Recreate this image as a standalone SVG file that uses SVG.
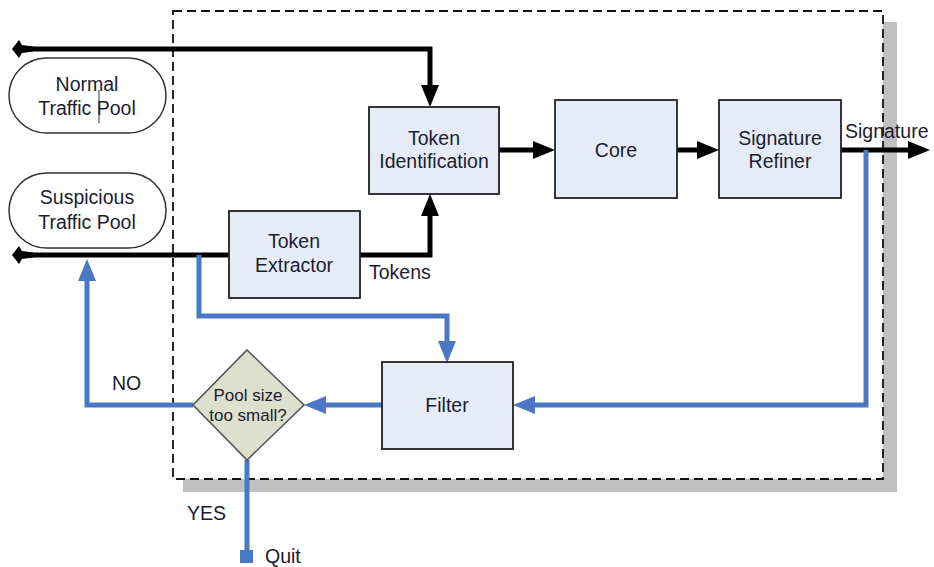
<svg xmlns="http://www.w3.org/2000/svg" width="934" height="567" viewBox="0 0 934 567">
<defs>
<style>
text{font-family:"Liberation Sans",Arial,sans-serif;font-size:19.5px;fill:#1c1c30}
.box{fill:#e6ecf7;stroke:#222;stroke-width:1.8}
.pool{fill:#fff;stroke:#333;stroke-width:1.5}
.blk{fill:none;stroke:#000;stroke-width:5}
.blu{fill:none;stroke:#4a78c4;stroke-width:5}
.c{text-anchor:middle}
</style>
<marker id="ab" viewBox="0 0 22 18" refX="1" refY="9" markerWidth="22" markerHeight="18" orient="auto" markerUnits="userSpaceOnUse">
<path d="M0,0 L22,9 L0,18 Z" fill="#000"/>
</marker>
<marker id="au" viewBox="0 0 22 18" refX="1" refY="9" markerWidth="22" markerHeight="18" orient="auto" markerUnits="userSpaceOnUse">
<path d="M0,0 L22,9 L0,18 Z" fill="#4a78c4"/>
</marker>
</defs>
<rect width="934" height="567" fill="#fff"/>
<g id="frame">
<rect x="183" y="22" width="714" height="470" fill="#c0c0c0"/>
<rect x="173" y="11" width="710" height="468" fill="#fff" stroke="#111" stroke-width="1.8" stroke-dasharray="9,5"/>
</g>
<g id="connectors">
<path class="blk" d="M26,49 H430 V86" marker-end="url(#ab)"/>
<path d="M12,49 L19,40 L22,45 L33,46.5 V51.5 L22,53 L19,58 Z" fill="#000"/>
<path class="blk" d="M26,255 H229"/>
<path d="M12,255 L19,246 L22,251 L33,252.5 V257.5 L22,259 L19,264 Z" fill="#000"/>
<path class="blk" d="M360,255 H430 V215" marker-end="url(#ab)"/>
<path class="blk" d="M499,150 H534" marker-end="url(#ab)"/>
<path class="blk" d="M677,150 H698" marker-end="url(#ab)"/>
<path class="blk" d="M841,150 H909" marker-end="url(#ab)"/>
<path class="blu" d="M866,150 V405 H534" marker-end="url(#au)"/>
<path class="blu" d="M199,255 V316 H447 V342" marker-end="url(#au)"/>
<path class="blu" d="M382,405 H325" marker-end="url(#au)"/>
<path class="blu" d="M193,405 H87 V280" marker-end="url(#au)"/>
<path class="blu" d="M247,460 V551"/>
<rect x="240" y="550" width="13" height="13" fill="#4a78c4"/>
</g>
<g id="normal-pool">
<rect class="pool" x="9" y="58" width="157" height="75" rx="37.5"/>
<text class="c" x="87" y="91">Normal</text>
<text class="c" x="87" y="115">Traffic Pool</text>
<line x1="99" y1="90" x2="99" y2="123" stroke="#333" stroke-width="1"/>
</g>
<g id="suspicious-pool">
<rect class="pool" x="9" y="173" width="157" height="75" rx="37.5"/>
<text class="c" x="87" y="204">Suspicious</text>
<text class="c" x="87" y="229">Traffic Pool</text>
</g>
<g id="token-identification">
<rect class="box" x="369" y="107" width="130" height="87"/>
<text class="c" x="434" y="145">Token</text>
<text class="c" x="434" y="168">Identification</text>
</g>
<g id="core">
<rect class="box" x="555" y="100" width="122" height="98"/>
<text class="c" x="616" y="157">Core</text>
</g>
<g id="signature-refiner">
<rect class="box" x="719" y="100" width="122" height="98"/>
<text class="c" x="780" y="145">Signature</text>
<text class="c" x="780" y="168">Refiner</text>
</g>
<g id="token-extractor">
<rect class="box" x="229" y="211" width="131" height="87"/>
<text class="c" x="294" y="248">Token</text>
<text class="c" x="294" y="272">Extractor</text>
</g>
<g id="filter">
<rect class="box" x="382" y="362" width="131" height="87"/>
<text class="c" x="447" y="412">Filter</text>
</g>
<g id="decision">
<path d="M247,350 L304,405 L247,460 L193,405 Z" fill="#dde0cc" stroke="#555" stroke-width="1.6"/>
<text class="c" x="248" y="401" style="font-size:17px">Pool size</text>
<text class="c" x="248" y="421" style="font-size:17px">too small?</text>
</g>
<g id="labels">
<text x="845" y="138">Signature</text>
<text x="369" y="279">Tokens</text>
<text x="112" y="390">NO</text>
<text x="187" y="520">YES</text>
<text x="265" y="563">Quit</text>
</g>
</svg>
